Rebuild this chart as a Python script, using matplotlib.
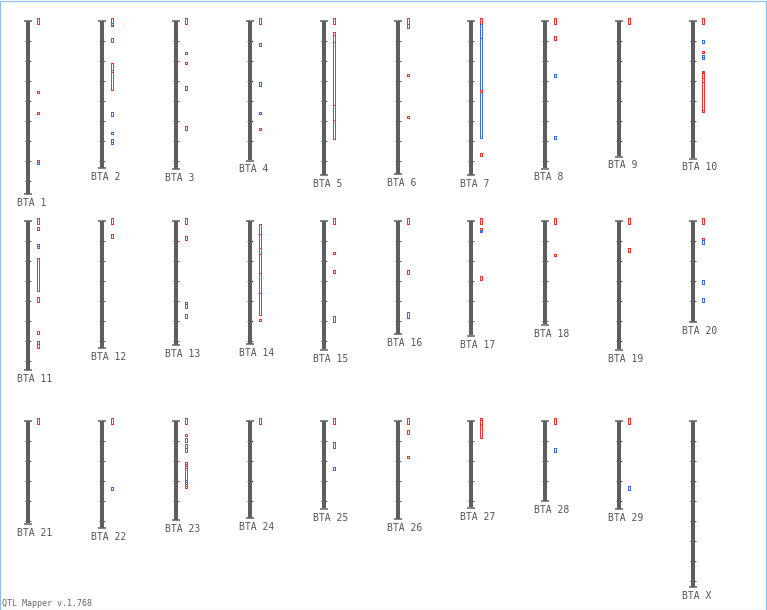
import matplotlib
matplotlib.use("Agg")
import matplotlib.pyplot as plt
import numpy as np
from matplotlib.patches import Rectangle

# ---------------- data ----------------
chrom_names = [f"BTA {i}" for i in range(1, 30)] + ["BTA X"]
chrom_lengths = [173, 147.3, 148, 139.5, 154, 153, 154, 147.5, 135.5, 137.5,
                 149.3, 127.3, 124.3, 123, 128.7, 113.3, 114.7, 103.7, 128.7, 101.3,
                 102.7, 107.3, 99.3, 97.3, 87.7, 98.3, 86.7, 80, 88.3, 166]
tick_step = 20

# QTL intervals: chromosome index (0-based), start, end, type (r = red, b = blue)
qtl_chrom = []
qtl_start = []
qtl_end = []
qtl_type = []
qtl_table = {
    1: [(-2.7, 4, 'r'), (70.3, 72.6, 'r'), (91.6, 94, 'r'), (139.3, 141.6, 'r'), (141.6, 144, 'b')],
    2: [(-2.7, 4.6, 'r'), (2.6, 5.3, 'b'), (17.3, 21, 'b'), (42.6, 49.3, 'r'), (49.3, 52, 'b'),
        (51, 70, 'r'), (91.6, 95.3, 'b'), (111.3, 114, 'b'), (118.3, 121.3, 'b'), (121.3, 124, 'b')],
    3: [(-2.7, 4, 'r'), (31, 34, 'b'), (41.5, 44, 'r'), (66, 69, 'b'), (106, 109, 'r')],
    4: [(-2.7, 4, 'r'), (22.5, 25.5, 'b'), (62, 65.5, 'b'), (91, 94, 'b'), (107, 110, 'r')],
    5: [(-2.7, 4, 'r'), (11.3, 118.6, 'r'), (11.3, 100, 'r'), (11.3, 84.6, 'r'), (14.6, 22, 'r'),
        (11.3, 14.7, 'r')],
    6: [(-2.7, 4, 'r'), (4, 7, 'b'), (53, 56, 'r'), (95, 98, 'r')],
    7: [(-2.7, 4, 'r'), (4, 118, 'b'), (4, 17.3, 'b'), (69.3, 72, 'r'), (132.6, 135, 'r')],
    8: [(-2.7, 4, 'r'), (16, 19, 'r'), (53, 56.5, 'b'), (115, 118.5, 'b')],
    9: [(-2.7, 4, 'r')],
    10: [(-2.7, 4, 'r'), (19.3, 22.6, 'b'), (30.6, 32.6, 'r'), (34.6, 36.6, 'b'), (36.6, 38.6, 'b'),
         (50.3, 52.6, 'b'), (52, 92, 'r'), (52, 57, 'r'), (57, 62, 'r'), (52, 90, 'r')],
    11: [(-2.7, 4, 'r'), (6.6, 9, 'r'), (23.3, 25.6, 'b'), (25.6, 28, 'b'), (37.3, 70.6, 'r'),
         (76.6, 81, 'r'), (110.3, 113, 'r'), (120.3, 123.6, 'r'), (123.6, 127, 'r')],
    12: [(-2.7, 4, 'r'), (14, 17, 'r')],
    13: [(-2.7, 4, 'r'), (16, 19, 'r'), (81, 84, 'b'), (84, 87, 'b'), (93.5, 97, 'b')],
    14: [(4, 94.6, 'r'), (4, 72.6, 'r'), (13.3, 52.6, 'r'), (27.9, 33.3, 'r'), (4, 13.3, 'r'),
         (98.3, 100.6, 'r')],
    15: [(-2.7, 4, 'r'), (31.3, 34, 'r'), (49.3, 52.6, 'r'), (96, 101, 'b')],
    16: [(-2.7, 4, 'r'), (49.3, 54, 'r'), (92, 97, 'b')],
    17: [(-2.7, 4, 'r'), (8, 10.6, 'r'), (10, 12, 'b'), (56, 59, 'r')],
    18: [(-2.7, 4, 'r'), (33, 36, 'r')],
    19: [(-2.7, 4, 'r'), (28, 31, 'r')],
    20: [(-2.7, 4, 'r'), (17.3, 20, 'r'), (20, 24, 'b'), (60, 64, 'b'), (77, 81, 'b')],
    21: [(-2.7, 4, 'r')],
    22: [(-2.7, 4, 'r'), (66.6, 70, 'b')],
    23: [(-2.7, 4, 'r'), (13.3, 16, 'r'), (17.3, 21.3, 'b'), (23.3, 27.3, 'b'), (27.3, 31, 'b'),
         (41.3, 68, 'r'), (41.3, 60, 'r'), (43, 62, 'r'), (45, 64, 'r'), (47, 66, 'r'), (60, 62, 'b')],
    24: [(-2.7, 4, 'r')],
    25: [(-2.7, 4, 'r'), (22, 27, 'b'), (46.3, 49.3, 'b')],
    26: [(-2.7, 4, 'r'), (10, 13, 'r'), (35.3, 38, 'r')],
    27: [(-2.7, 18, 'r'), (-2.7, 4, 'r'), (0, 18, 'r')],
    28: [(-2.7, 4, 'r'), (27.3, 31, 'b')],
    29: [(-2.7, 4, 'r'), (65.3, 69.6, 'b')],
}
for c, items in qtl_table.items():
    for s, e, t in items:
        qtl_chrom.append(c - 1)
        qtl_start.append(s)
        qtl_end.append(e)
        qtl_type.append(t)

# ---------------- style / layout ----------------
W, H = 767, 610
BAR_COLOR = "#5e5e5e"
LABEL_COLOR = "#555555"
COLORS = {'r': "#ff3030", 'b': "#3a6ee0"}
x0, dx = 28, 73.9
row_tops = [20.5, 220.5, 420.5]
px = 72 / 100  # one pixel in points

fig = plt.figure(figsize=(W / 100, H / 100), dpi=100)
ax = fig.add_axes([0, 0, 1, 1])
ax.set_xlim(0, W)
ax.set_ylim(H, 0)
ax.axis('off')

xcs = [round(x0 + dx * (i % 10)) for i in range(len(chrom_names))]
tops = [row_tops[i // 10] for i in range(len(chrom_names))]

# chromosome bars
ax.bar(xcs, chrom_lengths, bottom=tops, width=4, color=BAR_COLOR, linewidth=0)
for xc, top, L, name in zip(xcs, tops, chrom_lengths, chrom_names):
    bot = np.floor(top + L) + 0.5
    ax.hlines([top, bot], xc - 4, xc + 4, colors=BAR_COLOR, linewidth=1.5 * px)
    ticks = np.arange(tick_step, L - 1, tick_step)
    ax.hlines(top + ticks, xc - 3, xc + 3, colors=BAR_COLOR, linewidth=1 * px)
    ax.text(xc - 11, top + L + 9.5, name, fontsize=7, family="DejaVu Sans Mono",
            ha='left', va='center', color=LABEL_COLOR)

# QTL boxes: 1-px outlines drawn as four pixel-aligned strips each
sx, sy, sw, sh, scol = [], [], [], [], []
for c, s, e, t in zip(qtl_chrom, qtl_start, qtl_end, qtl_type):
    bx0 = xcs[c] + 9
    bx1 = bx0 + 3
    by0 = round(tops[c] + s)
    by1 = max(round(tops[c] + e) + 1, by0 + 3)
    col = COLORS[t]
    for (rx, ry, rw, rh) in [(bx0, by0, 1, by1 - by0), (bx1 - 1, by0, 1, by1 - by0),
                             (bx0, by0, 3, 1), (bx0, by1 - 1, 3, 1)]:
        sx.append(rx); sy.append(ry); sw.append(rw); sh.append(rh); scol.append(col)
ax.bar(sx, sh, bottom=sy, width=sw, align='edge', color=scol, linewidth=0,
       antialiased=False)

# footer and frame
ax.text(2.5, 604, "QTL Mapper v.1.768", fontsize=6, family="DejaVu Sans Mono",
        ha='left', va='center', color="#666666")
fig.patches.append(Rectangle((0.0006, 0.0008), 0.9985, 0.998, transform=fig.transFigure,
                             fill=False, edgecolor="#8cc0e8", linewidth=1.2 * px))

fig.savefig("out.png", dpi=100)
